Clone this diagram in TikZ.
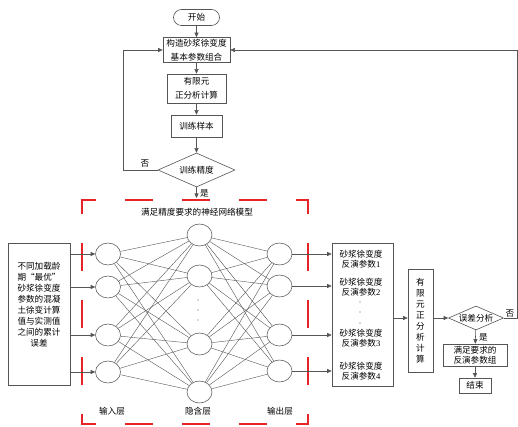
\documentclass[tikz,border=0pt]{standalone}
\usepackage{fontspec}
\setmainfont{Liberation Serif}
\newfontfamily\cjk{Noto Sans CJK SC}
\usetikzlibrary{shapes.geometric,arrows.meta}
\definecolor{dashred}{RGB}{230,36,40}
\definecolor{lineg}{RGB}{85,85,85}
\begin{document}
\begin{tikzpicture}[x=1pt,y=-1pt,
  base/.style={font=\cjk\fontsize{8.6}{11}\selectfont, inner sep=0pt, align=center, text=black},
  box/.style={base, draw=lineg, line width=0.6pt, rectangle},
  startbox/.style={box, rounded corners=8pt, minimum width=46pt, minimum height=16pt},
  dia/.style={base, draw=lineg, line width=0.6pt, diamond, aspect=2.3},
  arr/.style={draw=lineg, line width=0.55pt, -{Triangle[length=4.5pt,width=4pt]}},
  neuron/.style={draw=lineg, line width=0.55pt, ellipse, minimum width=25pt, minimum height=22pt, inner sep=0pt},
  link/.style={draw=lineg, line width=0.4pt},
  redd/.style={draw=dashred, line width=2pt, line cap=rect, dash pattern=on 26pt off 31pt, dash phase=13pt}
]
\useasboundingbox (0,0) rectangle (518,427);

% top flow
\node[startbox] (start) at (196.5,17.5) {开始};
\node[box, minimum width=67pt, minimum height=25pt, font=\cjk\fontsize{8.6}{13.5}\selectfont] (build) at (196.5,50) {构造砂浆徐变度\\基本参数组合};
\node[box, minimum width=59pt, minimum height=29pt, font=\cjk\fontsize{8.6}{14}\selectfont] (fem1) at (196.5,88.5) {有限元\\正分析计算};
\node[box, minimum width=51pt, minimum height=22pt] (samples) at (196.5,126) {训练样本};
\node[dia, minimum width=77pt, minimum height=34pt] (train) at (196.5,170) {训练精度};

\draw[arr] (start) -- (build);
\draw[arr] (build) -- (fem1);
\draw[arr] (fem1) -- (samples);
\draw[arr] (samples) -- (train);
\coordinate (nnin) at (196.5,198);
\draw[arr] (train) -- (nnin);
\node[base, anchor=west] (yes1) at (200,193) {是};
\coordinate (loopL) at (123,170);
\draw[arr] (train.west) -- (loopL) |- (build.west);
\node[base] (no1) at (145,163) {否};

% red dashed frame
\coordinate (rA) at (82,200);
\coordinate (rB) at (308,200);
\coordinate (rC) at (308,424);
\coordinate (rD) at (82,424);
\draw[redd] (rA) -- (rB);
\draw[redd] (rB) -- (rC);
\draw[redd] (rD) -- (rC);
\draw[redd] (rA) -- (rD);
\node[base] (title) at (197,212) {满足精度要求的神经网络模型};

% neurons
\foreach \n/\y in {1/254,2/287,3/335,4/372} \node[neuron] (in\n) at (108,\y) {};
\foreach \n/\y in {1/235,2/276,3/344,4/392} \node[neuron] (hid\n) at (199.5,\y) {};
\foreach \n/\y in {1/254,2/286,3/335,4/371} \node[neuron] (out\n) at (279.5,\y) {};
\foreach \i in {1,...,4} {
  \foreach \j in {1,...,4} {
    \draw[link] (in\i) -- (hid\j);
    \draw[link] (hid\i) -- (out\j);
  }
}
\foreach \y in {300,310,320} \fill[lineg] (198,\y) circle (0.6pt);

\node[base] (lin) at (112,411) {输入层};
\node[base] (lhid) at (198,411) {隐含层};
\node[base] (lout) at (280,411) {输出层};

% input box
\node[box, minimum width=62pt, minimum height=142pt] (inbox) at (39,314) {不同加载龄\\期“最优”\\砂浆徐变度\\参数的混凝\\土徐变计算\\值与实测值\\之间的累计\\误差\\[8pt]};
\foreach \n in {1,...,4} \draw[arr] (inbox.east |- in\n) -- (in\n);

% output box
\node[box, minimum width=61pt, minimum height=143pt] (outbox) at (362.5,314.5) {};
\node[base, font=\cjk\fontsize{8.6}{10.5}\selectfont] (p1) at (361,259) {砂浆徐变度\\反演参数{\rmfamily 1}};
\node[base, font=\cjk\fontsize{8.6}{10.5}\selectfont] (p2) at (361,287) {砂浆徐变度\\反演参数{\rmfamily 2}};
\node[base, font=\cjk\fontsize{8.6}{10.5}\selectfont] (p3) at (361,338) {砂浆徐变度\\反演参数{\rmfamily 3}};
\node[base, font=\cjk\fontsize{8.6}{10.5}\selectfont] (p4) at (361,371) {砂浆徐变度\\反演参数{\rmfamily 4}};
\foreach \y in {302,312,323} \fill[lineg] (360,\y) circle (0.6pt);
\foreach \n in {1,...,4} \draw[arr] (out\n) -- (outbox.west |- out\n);

% right part
\node[box, minimum width=25pt, minimum height=103pt] (fem2) at (420.5,320.5) {有\\限\\元\\正\\分\\析\\计\\算};
\node[dia, minimum width=55pt, minimum height=24pt] (err) at (476,318) {误差分析};
\draw[arr] (outbox.east |- err) -- (fem2.west |- err);
\draw[arr] (fem2.east |- err) -- (err);
\node[box, minimum width=64pt, minimum height=22pt, font=\cjk\fontsize{8.6}{10.5}\selectfont] (ok) at (475,355) {满足要求的\\反演参数组};
\node[box, minimum width=32pt, minimum height=15pt] (endn) at (475,385.5) {结束};
\draw[arr] (err) -- (ok);
\node[base, anchor=west] (yes2) at (479,337) {是};
\draw[arr] (ok) -- (endn);
\coordinate (loopR) at (517,318);
\draw[arr] (err.east) -- (loopR) |- (build.east);
\node[base] (no2) at (510,313) {否};
\end{tikzpicture}
\end{document}
